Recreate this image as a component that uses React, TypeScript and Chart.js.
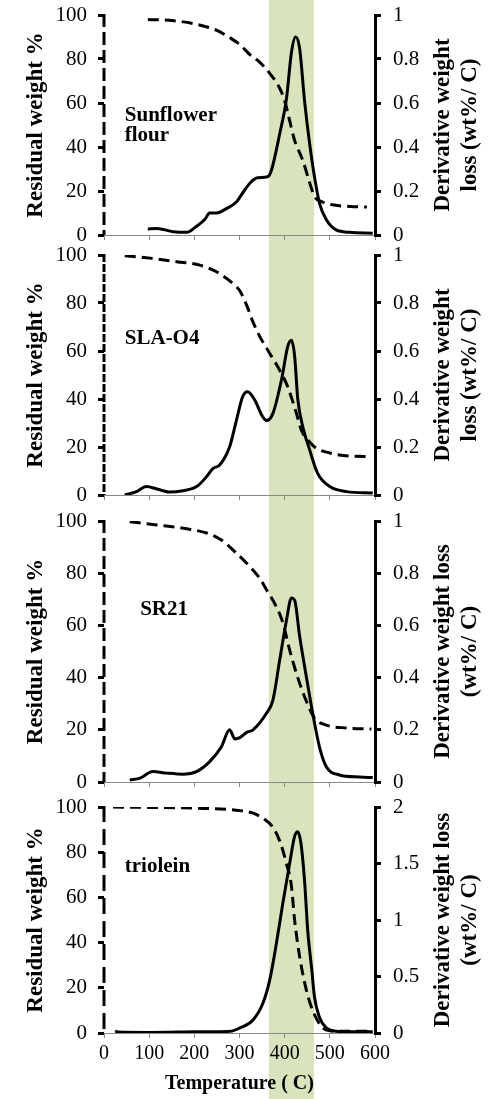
import React, { useEffect, useRef } from 'react';
import { Chart, registerables } from 'chart.js';

Chart.register(...registerables);

const FONT = "'Liberation Serif', 'Times New Roman', Times, serif";

// ---- axis ranges ----
const temperatureRange = [0, 600, 100]; // min, max, step (°C)
const residualRange = [0, 100, 20];
const derivRangeDefault = [0, 1, 0.2];
const derivRangeTriolein = [0, 2, 0.5];
const highlightBand = [365, 465]; // shaded temperature window

// ---- Sunflower flour ----
const sunflowerResidual: [number, number][] = [
  [97, 98], [150, 97.5], [200, 96], [250, 93], [280, 89.5], [301, 86.5], [323, 82], [345, 78.5],
  [367, 73.5], [389, 66.7], [400, 61], [411, 52], [422, 43], [440, 34], [455, 24], [466, 17.5],
  [484, 15], [510, 13.6], [545, 13], [582, 12.7],
];
const sunflowerDeriv: [number, number][] = [
  [97, 0.027], [117, 0.03], [153, 0.015], [183, 0.012], [205, 0.04], [223, 0.07], [234, 0.1],
  [249, 0.1], [271, 0.12], [293, 0.15], [310, 0.2], [325, 0.24], [340, 0.26], [362, 0.265],
  [370, 0.29], [389, 0.46], [404, 0.62], [415, 0.83], [424, 0.9], [433, 0.85], [444, 0.61],
  [455, 0.42], [466, 0.265], [477, 0.145], [492, 0.07], [514, 0.023], [544, 0.012], [595, 0.008],
];

// ---- SLA-O4 ----
const slaResidual: [number, number][] = [
  [46, 99.7], [102, 98.7], [161, 97.2], [212, 95.8], [249, 93], [286, 88], [301, 85], [316, 79],
  [330, 72], [345, 66], [367, 59], [389, 52], [407, 45], [426, 34], [437, 27], [451, 23],
  [470, 19.5], [500, 17.5], [544, 16.2], [592, 16],
];
const slaDeriv: [number, number][] = [
  [46, 0], [72, 0.014], [94, 0.035], [117, 0.025], [146, 0.012], [175, 0.018], [205, 0.035],
  [227, 0.076], [241, 0.11], [256, 0.125], [278, 0.2], [293, 0.31], [307, 0.41], [318, 0.43],
  [334, 0.395], [350, 0.33], [360, 0.31], [374, 0.34], [393, 0.48], [407, 0.62], [415, 0.645],
  [422, 0.58], [429, 0.4], [440, 0.285], [455, 0.19], [473, 0.09], [500, 0.035], [537, 0.014],
  [595, 0.008],
];

// ---- SR21 ----
const sr21Residual: [number, number][] = [
  [57, 99.7], [117, 98.5], [183, 97], [227, 95.4], [260, 92.7], [293, 87.7], [323, 82.5],
  [345, 78], [360, 73.6], [382, 67], [396, 61], [411, 50.6], [429, 40], [448, 31], [466, 24.5],
  [492, 21.8], [537, 20.7], [592, 20.3],
];
const sr21Deriv: [number, number][] = [
  [57, 0.008], [80, 0.015], [108, 0.04], [139, 0.034], [175, 0.03], [205, 0.04], [234, 0.078],
  [260, 0.135], [278, 0.2], [290, 0.165], [301, 0.17], [316, 0.19], [330, 0.2], [360, 0.264],
  [374, 0.314], [389, 0.467], [404, 0.62], [415, 0.705], [422, 0.697], [433, 0.56],
  [448, 0.403], [462, 0.264], [477, 0.135], [492, 0.059], [521, 0.027], [566, 0.019], [595, 0.017],
];

// ---- triolein ----
const trioleinResidual: [number, number][] = [
  [20, 100], [100, 99.8], [200, 99.5], [301, 98.4], [330, 97.3], [352, 95], [374, 91], [389, 85],
  [404, 75], [415, 65], [422, 50], [433, 34], [448, 19], [462, 10], [482, 2.8], [500, 1],
  [520, 0.8], [595, 0.8],
];
const trioleinDeriv: [number, number][] = [
  [25, 0.02], [30, 0.008], [100, 0.005], [200, 0.01], [250, 0.012], [280, 0.015], [301, 0.045],
  [330, 0.115], [352, 0.265], [367, 0.47], [382, 0.8], [396, 1.15], [411, 1.5], [422, 1.74],
  [429, 1.78], [436, 1.68], [444, 1.35], [451, 0.91], [460, 0.56], [466, 0.32], [477, 0.14],
  [492, 0.045], [514, 0.015], [540, 0.01], [595, 0.01],
];

// ---- sample labels (text, anchor in data units) ----
const sampleNames = [['Sunflower', 'flour'], ['SLA-O4'], ['SR21'], ['triolein']];
const sampleLabelAnchors: [number, number][] = [[46, 54.5], [46, 65], [80, 66], [46, 73.6]];
const rightTitles = [
  ['Derivative weight', 'loss (wt%/ C)'],
  ['Derivative weight', 'loss (wt%/ C)'],
  ['Derivative weight loss', '(wt%/ C)'],
  ['Derivative weight loss', '(wt%/ C)'],
];

type PanelLayout = {
  top: number; height: number; plotTop: number; plotBottom: number; showX: boolean; axisDash: number[];
};
const layouts: PanelLayout[] = [
  { top: 0, height: 245, plotTop: 15, plotBottom: 235, showX: false, axisDash: [13, 5] },
  { top: 245, height: 263, plotTop: 255, plotBottom: 495, showX: false, axisDash: [8, 2] },
  { top: 508, height: 288, plotTop: 521, plotBottom: 782, showX: false, axisDash: [13, 5] },
  { top: 796, height: 303, plotTop: 807, plotBottom: 1033, showX: true, axisDash: [16, 7] },
];

const panelSeries = [
  { residual: sunflowerResidual, deriv: sunflowerDeriv, range: derivRangeDefault },
  { residual: slaResidual, deriv: slaDeriv, range: derivRangeDefault },
  { residual: sr21Residual, deriv: sr21Deriv, range: derivRangeDefault },
  { residual: trioleinResidual, deriv: trioleinDeriv, range: derivRangeTriolein },
];

const plainNumber = (v: any) => String(Math.round(Number(v) * 100) / 100);

function PanelChart({ index }: { index: number }) {
  const ref = useRef<HTMLCanvasElement | null>(null);
  const lay = layouts[index];
  useEffect(() => {
    const canvas = ref.current;
    if (!canvas) return;
    const series = panelSeries[index];
    const names = sampleNames[index];
    const anchor = sampleLabelAnchors[index];
    const rTitle = rightTitles[index];

    const bandPlugin = {
      id: 'band',
      beforeDraw(chart: any) {
        const x = chart.scales.x;
        const x0 = x.getPixelForValue(highlightBand[0]);
        const x1 = x.getPixelForValue(highlightBand[1]);
        const ctx = chart.ctx;
        ctx.save();
        ctx.fillStyle = '#d7e4bd';
        ctx.fillRect(x0, 0, x1 - x0, chart.height);
        ctx.restore();
      },
    };
    const decorPlugin = {
      id: 'decor',
      afterDraw(chart: any) {
        const ctx = chart.ctx;
        const area = chart.chartArea;
        // dashed left axis line
        ctx.save();
        ctx.strokeStyle = '#000';
        ctx.lineWidth = 3;
        ctx.setLineDash(lay.axisDash);
        ctx.beginPath();
        ctx.moveTo(area.left, area.top - 1);
        ctx.lineTo(area.left, area.bottom);
        ctx.stroke();
        ctx.restore();
        // right title (rotated, reading bottom to top)
        const yR = chart.scales.yR;
        ctx.save();
        ctx.translate(yR.right - 36.5, (area.top + area.bottom) / 2);
        ctx.rotate(-Math.PI / 2);
        ctx.font = `bold 23px ${FONT}`;
        ctx.fillStyle = '#000';
        ctx.textAlign = 'center';
        ctx.textBaseline = 'middle';
        rTitle.forEach((t, i) => ctx.fillText(t, 0, (i - (rTitle.length - 1) / 2) * 27.5));
        ctx.restore();
        // sample name
        const px = chart.scales.x.getPixelForValue(anchor[0]);
        const py = chart.scales.yL.getPixelForValue(anchor[1]);
        ctx.save();
        ctx.font = `bold 21px ${FONT}`;
        ctx.fillStyle = '#000';
        ctx.textAlign = 'left';
        ctx.textBaseline = 'middle';
        names.forEach((t, i) => ctx.fillText(t, px, py + i * 20));
        ctx.restore();
      },
    };

    const chart = new Chart(canvas, {
      type: 'line',
      data: {
        datasets: [
          {
            label: 'Residual weight',
            data: series.residual.map(([x, y]) => ({ x, y })),
            yAxisID: 'yL',
            borderColor: '#000',
            borderWidth: 3,
            borderDash: [11, 6],
            pointRadius: 0,
            fill: false,
            cubicInterpolationMode: 'monotone',
          },
          {
            label: 'Derivative weight loss',
            data: series.deriv.map(([x, y]) => ({ x, y })),
            yAxisID: 'yR',
            borderColor: '#000',
            borderWidth: 3,
            pointRadius: 0,
            fill: false,
            cubicInterpolationMode: 'monotone',
          },
        ],
      },
      options: {
        responsive: false,
        animation: false,
        layout: { padding: { top: lay.plotTop - lay.top, left: 0, right: 0, bottom: 0 } },
        plugins: { legend: { display: false }, tooltip: { enabled: false } },
        scales: {
          x: {
            type: 'linear',
            min: temperatureRange[0],
            max: temperatureRange[1],
            ticks: {
              stepSize: temperatureRange[2],
              display: lay.showX,
              color: '#000',
              font: { family: FONT, size: 20 },
              padding: 4,
              maxRotation: 0,
              autoSkip: false,
              callback: plainNumber,
            },
            grid: { drawOnChartArea: false, color: '#898989', lineWidth: 1, tickLength: 5 },
            border: { display: true, color: '#898989', width: 1 },
            title: {
              display: lay.showX,
              text: 'Temperature ( C)',
              color: '#000',
              font: { family: FONT, size: 20, weight: 'bold' },
              padding: { top: 0, bottom: 3 },
            },
            afterFit: (s: any) => {
              s.height = lay.top + lay.height - lay.plotBottom;
            },
          },
          yL: {
            type: 'linear',
            position: 'left',
            min: residualRange[0],
            max: residualRange[1],
            ticks: {
              stepSize: residualRange[2],
              color: '#000',
              font: { family: FONT, size: 21 },
              padding: 11,
              callback: plainNumber,
            },
            grid: { drawOnChartArea: false, color: '#000', lineWidth: 3, tickLength: 6 },
            border: { display: false },
            title: {
              display: true,
              text: 'Residual weight %',
              color: '#000',
              font: { family: FONT, size: 23, weight: 'bold' },
              padding: { top: 22, bottom: 0 },
            },
            afterFit: (s: any) => {
              s.width = 104;
              s.paddingTop = 0;
              s.paddingBottom = 0;
            },
          },
          yR: {
            type: 'linear',
            position: 'right',
            min: series.range[0],
            max: series.range[1],
            ticks: {
              stepSize: series.range[2],
              color: '#000',
              font: { family: FONT, size: 21 },
              padding: 12,
              callback: plainNumber,
            },
            grid: { drawOnChartArea: false, color: '#000', lineWidth: 3, tickLength: 6 },
            border: { display: true, color: '#000', width: 3 },
            afterFit: (s: any) => {
              s.width = 118;
              s.paddingTop = 0;
              s.paddingBottom = 0;
            },
          },
        },
      } as any,
      plugins: [bandPlugin, decorPlugin],
    });
    return () => chart.destroy();
  }, [index]);
  return (
    <canvas
      ref={ref}
      width={493}
      height={lay.height}
      style={{ display: 'block', width: 493, height: lay.height }}
    />
  );
}

export default function App() {
  return (
    <div style={{ position: 'absolute', left: 0, top: 0, width: 493, height: 1099, background: '#fff' }}>
      {layouts.map((_, i) => (
        <PanelChart key={i} index={i} />
      ))}
    </div>
  );
}
